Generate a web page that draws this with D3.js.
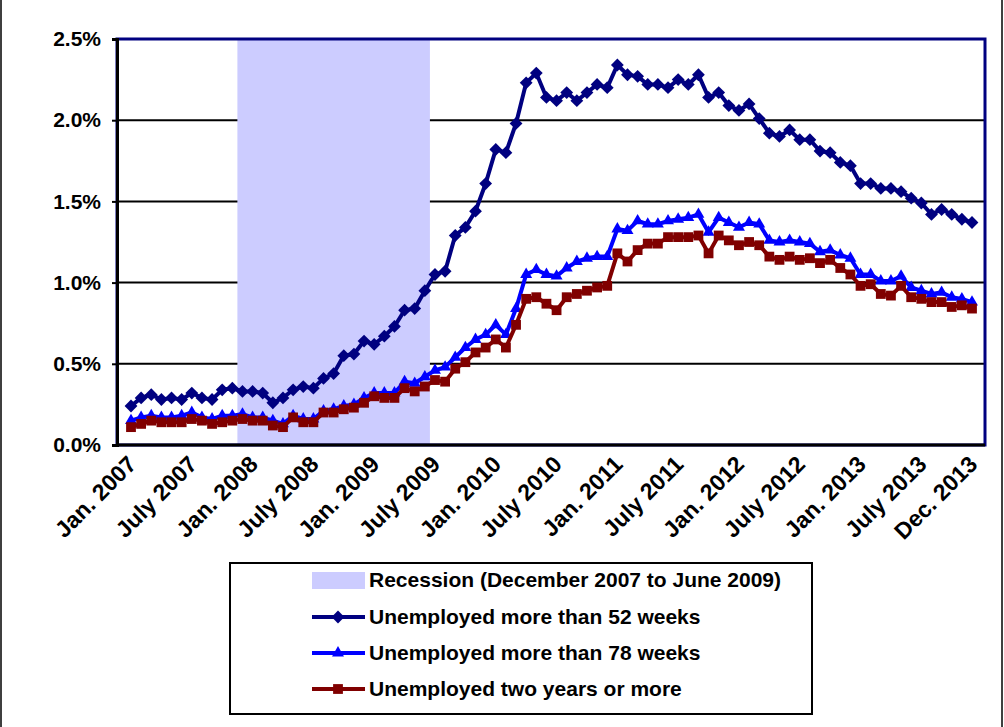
<!DOCTYPE html>
<html>
<head>
<meta charset="utf-8">
<script src="https://cdn.jsdelivr.net/npm/d3@7"></script>
<style>
  body { margin: 0; background: #fff; }
  text { font-family: Arial, "Liberation Sans", sans-serif; font-weight: bold; }
</style>
</head>
<body>
<svg id="chart" width="1004" height="727"></svg>
<script>
// monthly share of labor force, Jan 2007 .. Dec 2013 (percent)
var over52 = [0.24, 0.29, 0.31, 0.28, 0.29, 0.28, 0.32, 0.29, 0.28, 0.34, 0.35, 0.33,
    0.33, 0.32, 0.26, 0.29, 0.34, 0.36, 0.35, 0.41, 0.44, 0.55, 0.56, 0.64,
    0.62, 0.67, 0.73, 0.83, 0.84, 0.95, 1.05, 1.07, 1.29, 1.34, 1.44, 1.61,
    1.82, 1.80, 1.98, 2.23, 2.29, 2.14, 2.12, 2.17, 2.12, 2.17, 2.22, 2.20,
    2.34, 2.28, 2.27, 2.22, 2.22, 2.20, 2.25, 2.22, 2.28, 2.14, 2.17, 2.09,
    2.06, 2.10, 2.01, 1.92, 1.90, 1.94, 1.88, 1.88, 1.81, 1.80, 1.74, 1.72,
    1.61, 1.61, 1.58, 1.58, 1.56, 1.52, 1.49, 1.42, 1.45, 1.42, 1.39, 1.37];
var over78 = [0.15, 0.17, 0.18, 0.17, 0.17, 0.18, 0.20, 0.17, 0.16, 0.18, 0.18, 0.19,
    0.17, 0.17, 0.15, 0.13, 0.18, 0.16, 0.16, 0.21, 0.22, 0.24, 0.25, 0.29,
    0.32, 0.32, 0.32, 0.39, 0.38, 0.42, 0.46, 0.48, 0.54, 0.60, 0.65, 0.68,
    0.74, 0.68, 0.84, 1.05, 1.08, 1.05, 1.04, 1.09, 1.13, 1.15, 1.16, 1.16,
    1.33, 1.32, 1.38, 1.36, 1.36, 1.38, 1.39, 1.40, 1.42, 1.31, 1.40, 1.37,
    1.34, 1.37, 1.36, 1.26, 1.25, 1.26, 1.25, 1.24, 1.19, 1.20, 1.17, 1.15,
    1.05, 1.05, 1.01, 1.01, 1.04, 0.97, 0.95, 0.93, 0.94, 0.91, 0.90, 0.88];
var twoYears = [0.11, 0.13, 0.15, 0.14, 0.14, 0.14, 0.16, 0.15, 0.13, 0.14, 0.15, 0.16,
    0.15, 0.15, 0.12, 0.11, 0.17, 0.14, 0.14, 0.20, 0.20, 0.22, 0.23, 0.26,
    0.30, 0.29, 0.29, 0.35, 0.33, 0.36, 0.40, 0.39, 0.47, 0.51, 0.57, 0.60,
    0.65, 0.60, 0.74, 0.90, 0.91, 0.87, 0.83, 0.91, 0.93, 0.95, 0.97, 0.98,
    1.18, 1.13, 1.20, 1.24, 1.24, 1.28, 1.28, 1.28, 1.29, 1.18, 1.29, 1.26,
    1.23, 1.25, 1.23, 1.16, 1.14, 1.16, 1.14, 1.15, 1.12, 1.14, 1.09, 1.05,
    0.98, 0.99, 0.93, 0.92, 0.98, 0.91, 0.90, 0.88, 0.88, 0.85, 0.86, 0.84];

var tickIndex = [0, 6, 12, 18, 24, 30, 36, 42, 48, 54, 60, 66, 72, 78, 83];
var tickText = ["Jan. 2007", "July 2007", "Jan. 2008", "July 2008", "Jan. 2009", "July 2009",
    "Jan. 2010", "July 2010", "Jan. 2011", "July 2011", "Jan. 2012", "July 2012",
    "Jan. 2013", "July 2013", "Dec. 2013"];
var yTicks = [0, 0.5, 1.0, 1.5, 2.0, 2.5];

// recession: Dec 2007 (11) to June 2009 (29)
var recession = [11, 29];

// diamond = square turned 45 degrees
var series = [
    {name: "Unemployed more than 52 weeks", values: over52, color: "#000080", symbol: d3.symbolSquare, size: 82, rot: 45},
    {name: "Unemployed more than 78 weeks", values: over78, color: "#0000ff", symbol: d3.symbolTriangle, size: 62, rot: 0},
    {name: "Unemployed two years or more", values: twoYears, color: "#800000", symbol: d3.symbolSquare, size: 96, rot: 0}
];

var plot = {left: 117, right: 985, top: 39, bottom: 445};

var svg = d3.select("#chart");

// outer chart frame
svg.append("rect")
    .attr("x", 1).attr("y", -5).attr("width", 1001).attr("height", 740)
    .attr("fill", "none").attr("stroke", "#000").attr("stroke-width", 1.5);

var x = d3.scaleLinear().domain([0, over52.length - 1]).range([131, 972]);
var y = d3.scaleLinear().domain([0, 2.5]).range([plot.bottom, plot.top]);

// gridlines
svg.append("g").selectAll("line")
    .data(yTicks.filter(d => d > 0 && d < 2.5))
    .enter().append("line")
    .attr("x1", plot.left).attr("x2", plot.right)
    .attr("y1", d => y(d)).attr("y2", d => y(d))
    .attr("stroke", "#000").attr("stroke-width", 2);

// recession band sits over the gridlines
svg.append("rect")
    .attr("x", x(recession[0] - 0.5))
    .attr("width", x(recession[1] + 0.5) - x(recession[0] - 0.5))
    .attr("y", plot.top).attr("height", plot.bottom - plot.top)
    .attr("fill", "#ccccff");

// plot frame
svg.append("rect")
    .attr("x", plot.left).attr("y", plot.top)
    .attr("width", plot.right - plot.left).attr("height", plot.bottom - plot.top)
    .attr("fill", "none").attr("stroke", "#000080").attr("stroke-width", 3);

// y axis
var yAxis = d3.axisLeft(y)
    .tickValues(yTicks)
    .tickFormat(d => d.toFixed(1) + "%")
    .tickSize(5)
    .tickPadding(11);
var yg = svg.append("g").attr("transform", `translate(${plot.left},0)`).call(yAxis);
yg.select(".domain").attr("stroke", "#000").attr("stroke-width", 3);
yg.selectAll(".tick line").attr("stroke", "#000").attr("stroke-width", 2);
yg.selectAll(".tick text").style("font-size", "21px").attr("fill", "#000");

// bottom axis line
svg.append("line")
    .attr("x1", plot.left).attr("x2", plot.right)
    .attr("y1", plot.bottom).attr("y2", plot.bottom)
    .attr("stroke", "#000").attr("stroke-width", 3);

// x labels, rotated
svg.append("g").selectAll("text")
    .data(tickIndex)
    .enter().append("text")
    .attr("transform", d => `translate(${x(d) + 1},${plot.bottom + 15}) rotate(-45)`)
    .attr("text-anchor", "end")
    .attr("dy", "0.35em")
    .style("font-size", "23px")
    .text((d, i) => tickText[i]);

// series
var line = d3.line().x((d, i) => x(i)).y(d => y(d));
series.forEach(s => {
    var g = svg.append("g");
    g.append("path")
        .datum(s.values)
        .attr("d", line)
        .attr("fill", "none")
        .attr("stroke", s.color)
        .attr("stroke-width", 4);
    g.selectAll(".mark")
        .data(s.values)
        .enter().append("path")
        .attr("class", "mark")
        .attr("transform", (d, i) => `translate(${x(i)},${y(d)}) rotate(${s.rot})`)
        .attr("d", d3.symbol().type(s.symbol).size(s.size))
        .attr("fill", s.color);
});

// legend
var legend = svg.append("g");
legend.append("rect")
    .attr("x", 230).attr("y", 563).attr("width", 582).attr("height", 151)
    .attr("fill", "#fff").attr("stroke", "#000").attr("stroke-width", 2);

var rowY = [580, 617, 653, 689];
legend.append("rect")
    .attr("x", 312).attr("y", rowY[0] - 8).attr("width", 53).attr("height", 17)
    .attr("fill", "#ccccff");
legend.append("text")
    .attr("x", 369).attr("y", rowY[0]).attr("dy", "0.35em")
    .style("font-size", "21px")
    .text("Recession (December 2007 to June 2009)");

series.forEach((s, i) => {
    var ry = rowY[i + 1];
    legend.append("line")
        .attr("x1", 312).attr("x2", 365).attr("y1", ry).attr("y2", ry)
        .attr("stroke", s.color).attr("stroke-width", 4);
    legend.append("path")
        .attr("transform", `translate(338,${ry}) rotate(${s.rot})`)
        .attr("d", d3.symbol().type(s.symbol).size(s.size))
        .attr("fill", s.color);
    legend.append("text")
        .attr("x", 369).attr("y", ry).attr("dy", "0.35em")
        .style("font-size", "21px")
        .text(s.name);
});
</script>
</body>
</html>
